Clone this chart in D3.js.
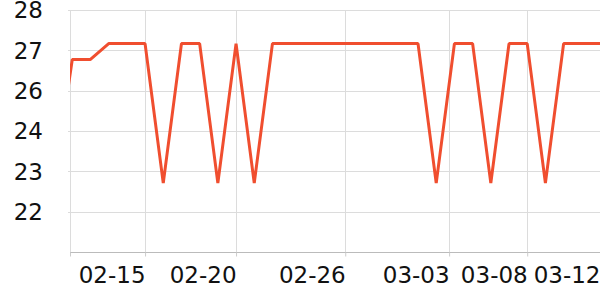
<!DOCTYPE html>
<html>
<head>
<meta charset="utf-8">
<script src="https://cdn.jsdelivr.net/npm/d3@7"></script>
<style>
  body { margin: 0; background: #fff; }
  svg { display: block; font-family: "DejaVu Sans", sans-serif; }
</style>
</head>
<body>
<div id="chart"></div>
<script>
(function() {
    var width = 600, height = 300,
    margin = { top: 10, left: 70, right: 0, bottom: 48 };

    // one reading per day, the first one sits just left of the visible window
    var dates = ["2023-02-10", "2023-02-11", "2023-02-12", "2023-02-13", "2023-02-14", "2023-02-15",
        "2023-02-16", "2023-02-17", "2023-02-18", "2023-02-19", "2023-02-20", "2023-02-21",
        "2023-02-22", "2023-02-23", "2023-02-24", "2023-02-25", "2023-02-26", "2023-02-27",
        "2023-02-28", "2023-03-01", "2023-03-02", "2023-03-03", "2023-03-04", "2023-03-05",
        "2023-03-06", "2023-03-07", "2023-03-08", "2023-03-09", "2023-03-10", "2023-03-11",
        "2023-03-12"];
    var values = [22.85, 26.53, 26.53, 27, 27, 27,
        22.85, 27, 27, 22.85, 27, 22.85,
        27, 27, 27, 27, 27, 27,
        27, 27, 27, 22.85, 27, 27,
        22.85, 27, 27, 22.85, 27, 27,
        27];

    var xDomain = ["2023-02-10T21:00", "2023-03-12T00:00"];
    var xTicks = ["2023-02-15T00:00", "2023-02-20T00:00", "2023-02-26T00:00",
        "2023-03-03T17:00", "2023-03-08T00:00", "2023-03-12T00:00"];
    var xTickLabels = ["02-15", "02-20", "02-26", "03-03", "03-08", "03-12"];

    var yDomain = [20.8, 28];
    var yTicks = [28, 26.8, 25.6, 24.4, 23.2, 22.0];

    var parse = d3.isoParse;
    var data = dates.map(function(d, i) { return { date: parse(d), value: values[i] }; });

    var svg = d3.select("#chart")
    .append("svg")
    .attr("width", width)
    .attr("height", height);

    var x = d3.scaleTime()
    .domain(xDomain.map(parse))
    .range([margin.left, width - margin.right]);

    var y = d3.scaleLinear()
    .domain(yDomain)
    .range([height - margin.bottom, margin.top]);

    // grid
    var grid = svg.append("g");

    grid.selectAll(".hgrid")
    .data(yTicks)
    .enter().append("line")
    .attr("x1", margin.left - 2)
    .attr("x2", width)
    .attr("y1", function(d) { return Math.round(y(d)) + 0.5; })
    .attr("y2", function(d) { return Math.round(y(d)) + 0.5; })
    .attr("stroke", "#dcdcdc");

    var vTicks = [xDomain[0]].concat(xTicks);
    grid.selectAll(".vgrid")
    .data(vTicks)
    .enter().append("line")
    .attr("x1", function(d) { return Math.round(x(parse(d))) + 0.5; })
    .attr("x2", function(d) { return Math.round(x(parse(d))) + 0.5; })
    .attr("y1", margin.top)
    .attr("y2", height - margin.bottom)
    .attr("stroke", "#dcdcdc");

    // x axis
    var xAxis = d3.axisBottom(x)
    .tickValues(vTicks.map(parse))
    .tickSize(4)
    .tickFormat(function(d, i) { return i === 0 ? "" : xTickLabels[i - 1]; });

    var gx = svg.append("g")
    .attr("transform", "translate(0," + (height - margin.bottom + 0.5) + ")")
    .call(xAxis);
    gx.select(".domain").attr("stroke", "#bbbbbb").attr("d", "M" + margin.left + ",0H" + width);
    gx.selectAll(".tick line").attr("stroke", "#cccccc");
    gx.selectAll(".tick text")
    .attr("text-anchor", "end")
    .attr("y", 30)
    .attr("dy", 0)
    .attr("fill", "#111")
    .style("font-size", "23px")
    .style("font-family", "DejaVu Sans");

    // y labels
    svg.selectAll(".ylabel")
    .data(yTicks)
    .enter().append("text")
    .attr("x", 43)
    .attr("y", function(d) { return y(d); })
    .attr("dy", "0.36em")
    .attr("text-anchor", "end")
    .attr("fill", "#111")
    .style("font-size", "23px")
    .text(function(d) { return d3.format(".0f")(d); });

    // line
    svg.append("clipPath")
    .attr("id", "plot-clip")
    .append("rect")
    .attr("x", margin.left)
    .attr("y", 0)
    .attr("width", width - margin.left)
    .attr("height", height);

    var line = d3.line()
    .x(function(d) { return x(d.date); })
    .y(function(d) { return y(d.value); });

    svg.append("path")
    .datum(data)
    .attr("clip-path", "url(#plot-clip)")
    .attr("fill", "none")
    .attr("stroke", "#f04e2f")
    .attr("stroke-width", 3)
    .attr("stroke-linejoin", "bevel")
    .attr("d", line);
})();
</script>
</body>
</html>
